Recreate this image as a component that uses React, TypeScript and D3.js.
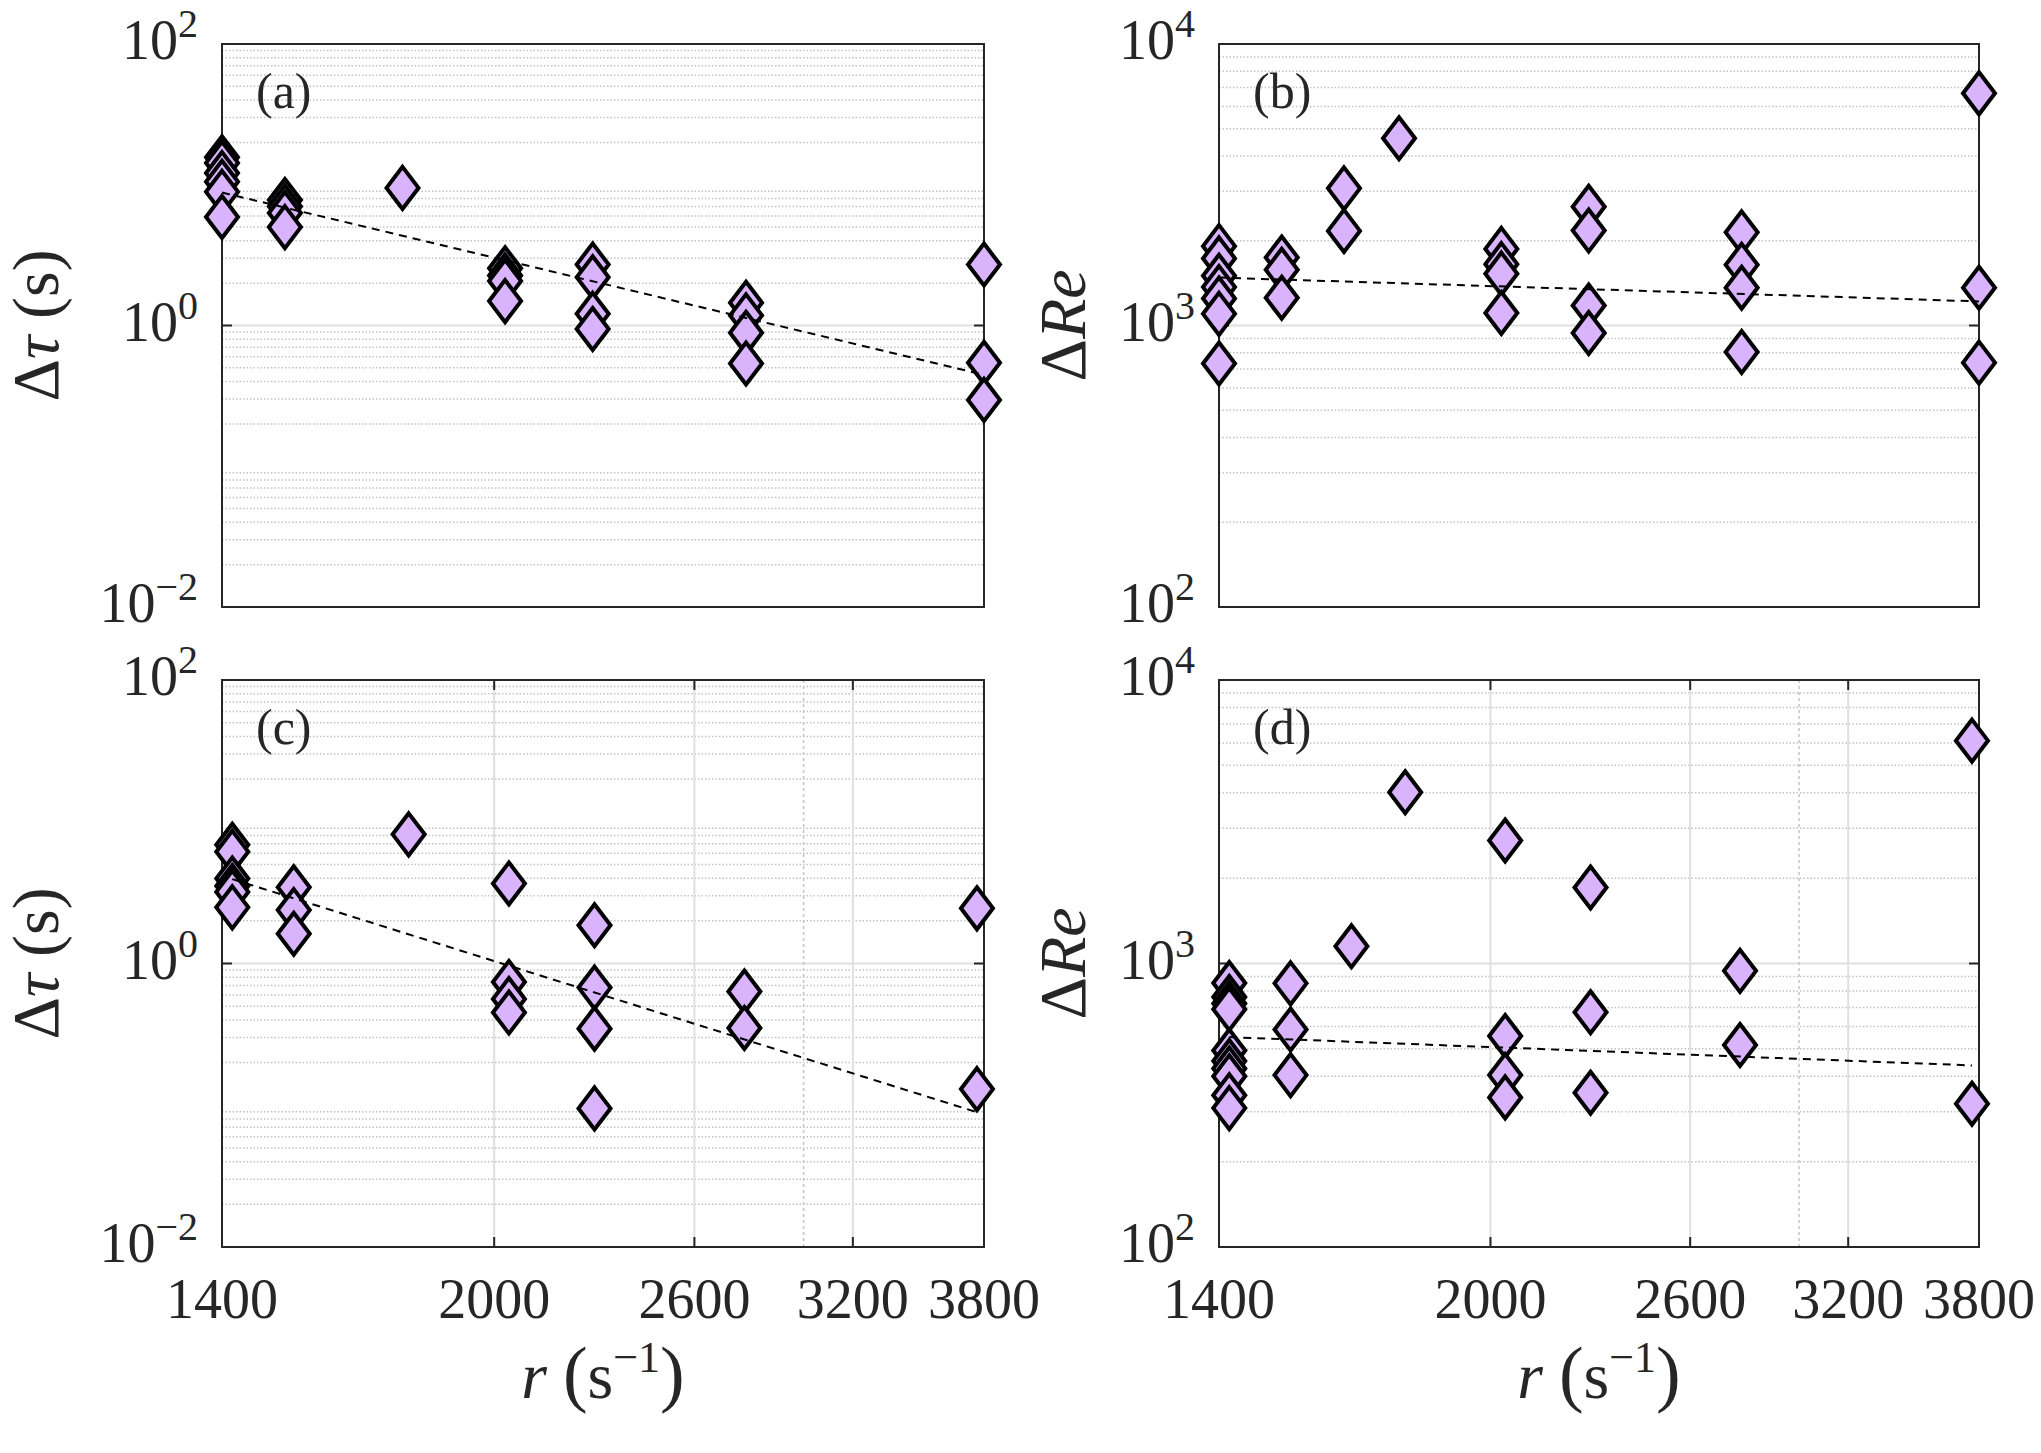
import { scaleLog, line } from 'd3'

// shear rates (s^-1) of the data columns, shared by all four panels
const rates = [1419, 1538, 1666, 1788, 2039, 2281, 2776, 3765]

// (a) delta tau (s), one list per rate
const tauA = [
  [15.7, 14.3, 12.1, 10.5, 8.9, 5.9],
  [7.8, 7.0, 6.3, 5.0],
  [],
  [9.5],
  [2.55, 2.27, 2.07, 1.49],
  [2.71, 2.2, 1.21, 0.945],
  [1.45, 1.18, 0.887, 0.537],
  [2.71, 0.544, 0.296],
]

// (b) delta Re
const reB = [
  [1914, 1731, 1503, 1369, 1247, 1100, 733],
  [1745, 1577, 1255],
  [3070, 2168],
  [4625],
  [1871, 1652, 1528, 1107],
  [2643, 2175, 1178, 941],
  [2142, 1642, 1361, 805],
  [6680, 1361, 738],
]

// (c) delta tau (s)
const tauC = [
  [6.88, 6.15, 3.98, 3.52, 3.2, 2.49],
  [3.45, 2.38, 1.62],
  [],
  [8.15],
  [3.67, 0.741, 0.561, 0.451],
  [1.86, 0.676, 0.347, 0.095],
  [0.635, 0.351],
  [2.45, 0.13],
]

// (d) delta Re
const reD = [
  [853, 762, 723, 690, 493, 453, 426, 400, 343, 309],
  [851, 585, 404],
  [1151],
  [4018],
  [2717, 555, 404, 337],
  [1854, 673, 350],
  [942, 516],
  [6110, 320],
]

// power-law fits (dashed)
const fitRates = [1419, 3765]
const fitA = [8.8, 0.446]
const fitB = [1480, 1218]
const fitC = [3.94, 0.0893]
const fitD = [550, 437]

const xTicks = [1400, 2000, 2600, 3200, 3800]
const xMinor = [3000]
const tauTicks = [0.01, 1, 100]
const reTicks = [100, 1000, 10000]

const FONT = "'Liberation Serif', 'Times New Roman', 'DejaVu Serif', serif"
const FILL = '#d9b3fc'
const INK = '#262626'

const sup = (v: number) => {
  const e = Math.round(Math.log10(v))
  return e < 0 ? '\u2212' + Math.abs(e) : String(e)
}

interface PanelProps {
  left: number
  top: number
  width: number
  height: number
  xDomain: number[]
  yDomain: number[]
  yTicks: number[]
  cols: number[][]
  fit: number[]
  letter: string
  kind: 'tau' | 're'
  showX: boolean
}

const Panel = ({ left, top, width, height, xDomain, yDomain, yTicks, cols, fit, letter, kind, showX }: PanelProps) => {
  const x = scaleLog().domain(xDomain).range([left, left + width])
  const y = scaleLog().domain(yDomain).range([top + height, top])
  const bottom = top + height
  const right = left + width

  const minor: number[] = []
  const e0 = Math.round(Math.log10(yDomain[0]))
  const e1 = Math.round(Math.log10(yDomain[1]))
  for (let e = e0; e < e1; e++) for (let k = 2; k < 10; k++) minor.push(k * Math.pow(10, e))

  const pts: { r: number; v: number }[] = []
  cols.forEach((c, i) => c.forEach(v => pts.push({ r: rates[i], v })))

  const fitPath = line<number>()
    .x((_, i) => x(fitRates[i]))
    .y(d => y(d))(fit)

  const majorX = showX ? xTicks.slice(1, -1) : []
  const minorX = showX ? xMinor : []
  const hw = 16
  const hh = 21

  return (
    <g>
      {minor.map(v => (
        <line key={'my' + v} x1={left} x2={right} y1={y(v)} y2={y(v)} stroke='#c4c4c4' strokeWidth={1.5} strokeDasharray='1.5,2' />
      ))}
      {yTicks.slice(1, -1).map(v => (
        <line key={'gy' + v} x1={left} x2={right} y1={y(v)} y2={y(v)} stroke='#e0e0e0' strokeWidth={2} />
      ))}
      {minorX.map(v => (
        <line key={'mx' + v} x1={x(v)} x2={x(v)} y1={top} y2={bottom} stroke='#c4c4c4' strokeWidth={1.5} strokeDasharray='3,3' />
      ))}
      {majorX.map(v => (
        <line key={'gx' + v} x1={x(v)} x2={x(v)} y1={top} y2={bottom} stroke='#e0e0e0' strokeWidth={2} />
      ))}

      {yTicks.map(v => (
        <g key={'ty' + v}>
          <line x1={left} x2={left + 10} y1={y(v)} y2={y(v)} stroke={INK} strokeWidth={2} />
          <line x1={right} x2={right - 10} y1={y(v)} y2={y(v)} stroke={INK} strokeWidth={2} />
          <text x={left - 24} y={y(v) + 15} textAnchor='end' fontSize={56} fill={INK} fontFamily={FONT}>
            10<tspan fontSize={40} dy={-22}>{sup(v)}</tspan>
          </text>
        </g>
      ))}
      {majorX.map(v => (
        <g key={'tx' + v}>
          <line x1={x(v)} x2={x(v)} y1={bottom} y2={bottom - 10} stroke={INK} strokeWidth={2} />
          <line x1={x(v)} x2={x(v)} y1={top} y2={top + 10} stroke={INK} strokeWidth={2} />
        </g>
      ))}
      {showX && xTicks.map(v => (
        <text key={'lx' + v} x={x(v)} y={bottom + 71} textAnchor='middle' fontSize={56} fill={INK} fontFamily={FONT}>{v}</text>
      ))}

      <rect x={left} y={top} width={width} height={height} fill='none' stroke={INK} strokeWidth={2} />

      {pts.map((p, i) => {
        const cx = x(p.r)
        const cy = y(p.v)
        return (
          <path key={'p' + i}
            d={`M${cx},${cy - hh}L${cx + hw},${cy}L${cx},${cy + hh}L${cx - hw},${cy}Z`}
            fill={FILL} stroke='#000' strokeWidth={4} strokeLinejoin='miter' />
        )
      })}

      <path d={fitPath ?? ''} fill='none' stroke='#000' strokeWidth={2} strokeDasharray='8,6' />

      <text x={left + 34} y={top + 64} fontSize={50} fill={INK} fontFamily={FONT}>({letter})</text>

      {kind === 'tau' ? (
        <text transform={`translate(${left - 164},${top + height / 2}) rotate(-90)`} textAnchor='middle' fontSize={66} fill={INK} fontFamily={FONT}>
          Δ<tspan fontStyle='italic'>τ</tspan>  (s)
        </text>
      ) : (
        <text transform={`translate(${left - 134},${top + height / 2}) rotate(-90)`} textAnchor='middle' fontSize={66} fill={INK} fontFamily={FONT}>
          Δ<tspan fontStyle='italic'>Re</tspan>
        </text>
      )}

      {showX && (
        <text x={left + width / 2} y={bottom + 151} textAnchor='middle' fontSize={66} fill={INK} fontFamily={FONT}>
          <tspan fontStyle='italic'>r</tspan>
          <tspan dx={16} fontSize={74}>(</tspan>
          <tspan>s</tspan>
          <tspan fontSize={44} dy={-26}>{'\u22121'}</tspan>
          <tspan fontSize={74} dy={26}>)</tspan>
        </text>
      )}
    </g>
  )
}

export default function App() {
  const topX = [rates[0], rates[rates.length - 1]]
  const botX = [1400, 3800]
  return (
    <svg width={2041} height={1453} viewBox='0 0 2041 1453'
      style={{ position: 'absolute', left: 0, top: 0, background: '#fff' }}>
      <rect width={2041} height={1453} fill='#fff' />
      <Panel left={222} top={44} width={762} height={563} xDomain={topX} yDomain={[0.01, 100]} yTicks={tauTicks}
        cols={tauA} fit={fitA} letter='a' kind='tau' showX={false} />
      <Panel left={1219} top={44} width={760} height={563} xDomain={topX} yDomain={[100, 10000]} yTicks={reTicks}
        cols={reB} fit={fitB} letter='b' kind='re' showX={false} />
      <Panel left={222} top={680} width={762} height={567} xDomain={botX} yDomain={[0.01, 100]} yTicks={tauTicks}
        cols={tauC} fit={fitC} letter='c' kind='tau' showX={true} />
      <Panel left={1219} top={680} width={760} height={567} xDomain={botX} yDomain={[100, 10000]} yTicks={reTicks}
        cols={reD} fit={fitD} letter='d' kind='re' showX={true} />
    </svg>
  )
}
